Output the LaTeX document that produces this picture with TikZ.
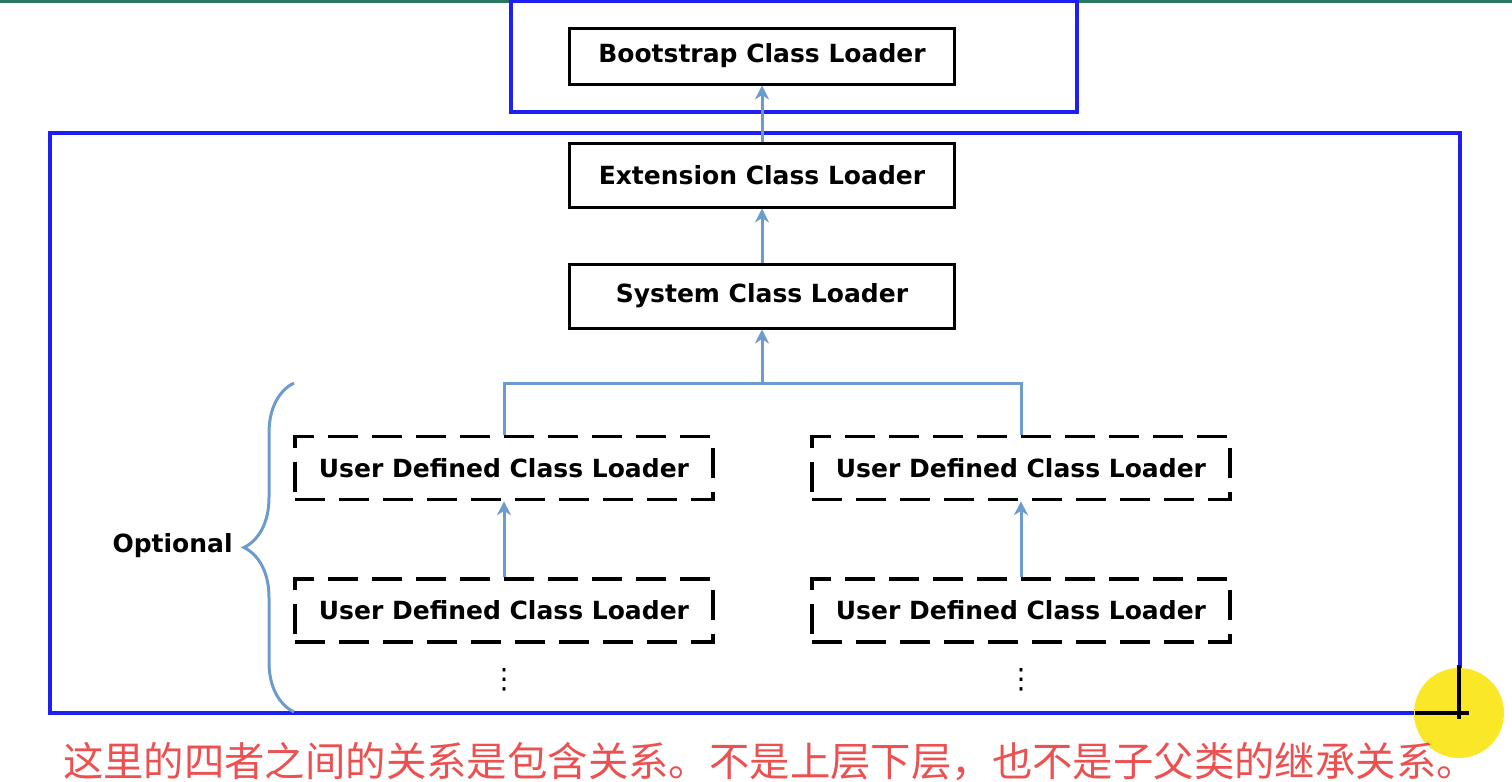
\documentclass[tikz,border=0pt]{standalone}
\usepackage{fontspec}
\setmainfont{DejaVu Sans}
\newfontfamily\cjk{Noto Sans CJK SC}
\usetikzlibrary{arrows.meta,positioning,decorations.pathreplacing}
\definecolor{linkblue}{RGB}{108,155,205}
\definecolor{frameblue}{RGB}{30,30,245}
\definecolor{notered}{RGB}{236,80,80}
\definecolor{topteal}{RGB}{40,120,100}
\definecolor{marker}{RGB}{250,232,40}

\begin{document}
\begin{tikzpicture}[
    x=0.5pt, y=-0.5pt,
    loader/.style={rectangle, draw=black, line width=1.5pt, minimum width=192.5pt, minimum height=32pt, inner sep=0pt, font=\bfseries\fontsize{12.5}{14}\selectfont},
    userloader/.style={loader, dash pattern=on 15pt off 7pt, line width=1.8pt, minimum width=209pt, minimum height=31.5pt},
    frame/.style={rectangle, draw=frameblue, line width=2pt, inner sep=0pt},
    link/.style={draw=linkblue, line width=1.5pt},
    arrow/.style={link, -{Stealth[length=7pt,width=7pt]}},
    pointer/.style={draw=black, line width=2pt},
    label/.style={font=\bfseries\fontsize{12.5}{14}\selectfont, inner sep=0pt},
    more/.style={font=\fontsize{14}{14}\selectfont, inner sep=0pt}
]
\useasboundingbox (0,0) rectangle (1512,782);
\fill[topteal] (0,0) rectangle (1512,3);

% Containers
\node[frame, minimum width=283pt, minimum height=55.5pt] (boot_frame) at (794,56.5) {};
\node[frame, minimum width=705pt, minimum height=290pt] (main_frame) at (755,423) {};

% Loader chain
\node[loader, minimum height=28pt] (boot) at (762,56) {Bootstrap Class Loader};
\node[loader] (ext) at (762,175) {Extension Class Loader};
\node[loader] (sys) at (762,296) {System Class Loader};

% User defined loaders
\node[userloader] (user_l1) at (504,468) {User Defined Class Loader};
\node[userloader, below=38pt of user_l1] (user_l2) {User Defined Class Loader};
\node[userloader] (user_r1) at (1021,468) {User Defined Class Loader};
\node[userloader, below=38pt of user_r1] (user_r2) {User Defined Class Loader};
\node[more] (dots_l) at (504,680) {⋮};
\node[more] (dots_r) at (1021,680) {⋮};

% Parent links
\coordinate (fork) at (762,383);
\draw[arrow] (ext) -- (boot);
\draw[arrow] (sys) -- (ext);
\draw[arrow] (fork) -- (sys);
\draw[link] (user_l1.north) |- (fork) -| (user_r1.north);
\draw[arrow] (user_l2) -- (user_l1);
\draw[arrow] (user_r2) -- (user_r1);

% Optional brace
\coordinate (brace_top) at (294,383);
\coordinate (brace_bot) at (294,712);
\draw[link, decorate, decoration={brace, amplitude=25pt}] (brace_bot) -- (brace_top);
\node[label, anchor=east] (optional) at (233,546) {Optional};

% Cursor mark
\node[circle, fill=marker, minimum size=45pt, inner sep=0pt] (cursor) at (1459,713) {};
\draw[pointer] ([yshift=24pt]cursor.center) -- ([yshift=-3pt]cursor.center);
\draw[pointer] ([xshift=-22pt]cursor.center) -- ([xshift=5pt]cursor.center);

% Note
\node[font=\cjk\fontsize{20.2}{24}\selectfont, text=notered, inner sep=0pt] (note) at (770,762) {这里的四者之间的关系是包含关系。不是上层下层，也不是子父类的继承关系。};

\end{tikzpicture}
\end{document}
